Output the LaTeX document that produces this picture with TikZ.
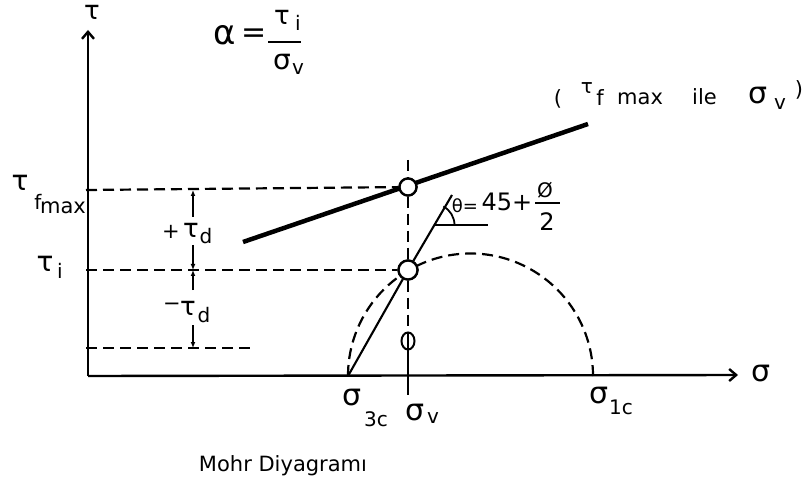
\documentclass[tikz,border=0pt]{standalone}
\usepackage{fontspec}
\setmainfont{DejaVu Sans}
\usetikzlibrary{arrows.meta,shapes.geometric}
\newcommand\fsz[1]{\fontsize{#1}{#1}\selectfont}
\begin{document}
\begin{tikzpicture}[x=1pt,y=-1pt,
  axisln/.style={line width=2.4pt},
  dashln/.style={line width=2.2pt, dash pattern=on 11pt off 6pt},
  dimarrow/.style={line width=1.6pt, -{Latex[length=6pt,width=5pt]}},
  g/.style={inner sep=0pt, font=\fsz{30}},
  sb/.style={inner sep=0pt, font=\fsz{20}},
  txt/.style={inner sep=0pt, font=\fsz{21}},
  dot/.style={circle, draw, fill=white, line width=2.3pt, minimum size=17pt, inner sep=0pt}]
\useasboundingbox (0,0) rectangle (808,494);
% coordinates
\coordinate (O) at (88,376);
\coordinate (Ytop) at (88,30);
\coordinate (Xend) at (738,375);
\coordinate (S3) at (348,376);
\coordinate (S1) at (593,376);
\coordinate (L1) at (243,242);
\coordinate (L2) at (588,124);
\coordinate (Vt) at (408,160);
\coordinate (Vb) at (408,395);
\coordinate (T1) at (86,190);
\coordinate (T2) at (86,270);
\coordinate (T3) at (86,348);
\coordinate (T3e) at (252,348);
\coordinate (Incl) at (452,195);
\coordinate (H0) at (433.5,225);
\coordinate (H1) at (488,225);
\coordinate (A1s) at (193,217);
\coordinate (A1e) at (193,190);
\coordinate (A2s) at (193,245);
\coordinate (A2e) at (193,270);
\coordinate (A3s) at (193,290);
\coordinate (A3e) at (193,270);
\coordinate (A4s) at (193,325);
\coordinate (A4e) at (193,348);
\coordinate (FB1) at (268,42);
\coordinate (FB2) at (301,42);
\coordinate (PB1) at (535,203);
\coordinate (PB2) at (560,203);
% dots
\node[dot] (P1) at (408,187) {};
\node[dot, minimum size=19pt] (P2) at (408,270) {};
\node[draw, ellipse, line width=2pt, minimum width=13pt, minimum height=17pt, inner sep=0pt] (Ph) at (408,341) {};
% dashed lines
\draw[dashln] (T1) -- (P1);
\draw[dashln] (T2) -- (P2);
\draw[dashln] (T3) -- (T3e);
\draw[dashln] (Vt) -- (P1);
\draw[dashln] (P1) -- (P2);
\draw[dashln] (P2) -- (Ph);
\draw[line width=2pt] (Ph.north) -- (Vb);
\draw[dashln] (S3) arc[start angle=180, end angle=360, radius=122.5];
% axes
\draw[axisln, -{Straight Barb[length=7pt,width=12pt]}] (O) -- (Ytop);
\draw[axisln, -{Straight Barb[length=7pt,width=12pt]}] (O) -- (Xend);
% failure line
\draw[line width=4.5pt] (L1) -- (L2);
% inclined line
\draw[line width=2.1pt] (S3) -- (P2);
\draw[line width=2.1pt] (P2) -- (Incl);
\draw[line width=2.1pt] (H0) -- (H1);
\draw[line width=1.8pt] (H0) ++(0:21) arc[start angle=0, end angle=-62, radius=21];
% redraw dots on top
\node[dot] at (P1) {};
\node[dot, minimum size=19pt] at (P2) {};
% dimension arrows
\draw[dimarrow] (A1s) -- (A1e);
\draw[dimarrow] (A2s) -- (A2e);
\draw[dimarrow] (A3s) -- (A3e);
\draw[dimarrow] (A4s) -- (A4e);
% axis labels
\node[g, font=\fsz{26}] (tau) at (92,12) {τ};
\node[g] (sig) at (761,374) {σ};
% alpha formula
\node[g, font=\fsz{34}] (alpha) at (225,35) {α};
\node[g] (eq) at (254,36) {=};
\node[g, font=\fsz{26}] (fta) at (282,17) {τ};
\node[sb] (fi) at (298,23) {i};
\draw[line width=1.8pt] (FB1) -- (FB2);
\node[g, font=\fsz{28}] (fsg) at (282,62) {σ};
\node[sb] (fv) at (298,69) {v};
% right label
\node[txt] (rp1) at (558,99) {(};
\node[g, font=\fsz{20}] (rta) at (587,88) {τ};
\node[txt] (rf) at (600,98) {f};
\node[txt, anchor=base west] (rmax) at (617,105) {max};
\node[txt, anchor=base west] (rile) at (692,105) {ile};
\node[g] (rsg) at (758,96) {σ};
\node[sb] (rv) at (780,104) {v};
\node[txt] (rp2) at (799,90) {)};
% left labels
\node[g, font=\fsz{28}] (tfm) at (20,183) {τ};
\node[sb] (fl) at (38,202) {f};
\node[txt] (mx) at (63,208) {max};
\node[g, font=\fsz{28}] (til) at (45,264) {τ};
\node[sb] (tii) at (60,271) {i};
\node[txt] (pls) at (171,232) {+};
\node[g, font=\fsz{26}] (pdt) at (191,230) {τ};
\node[sb] (pdd) at (206,236) {d};
\node[txt] (mns) at (172,307) {−};
\node[g, font=\fsz{26}] (mdt) at (188,308) {τ};
\node[sb] (mdd) at (204,315) {d};
% theta label
\node[inner sep=0pt, font=\fsz{18}] (th) at (465,206) {θ=};
\node[inner sep=0pt, font=\fsz{24}] (f45) at (507,202) {45+};
\node[inner sep=0pt, font=\fsz{20}] (phi) at (545,190) {Ø};
\draw[line width=1.6pt] (PB1) -- (PB2);
\node[inner sep=0pt, font=\fsz{24}] (two) at (547,222) {2};
% sigma labels
\node[g] (s3) at (352,398) {σ};
\node[sb] (s3s) at (376,419) {3c};
\node[g] (sv) at (415,413) {σ};
\node[sb] (svs) at (433,418) {v};
\node[g] (s1) at (599,396) {σ};
\node[sb] (s1s) at (621,407) {1c};
% caption
\node[txt] (cap) at (283,466) {Mohr Diyagramı};
\end{tikzpicture}
\end{document}
